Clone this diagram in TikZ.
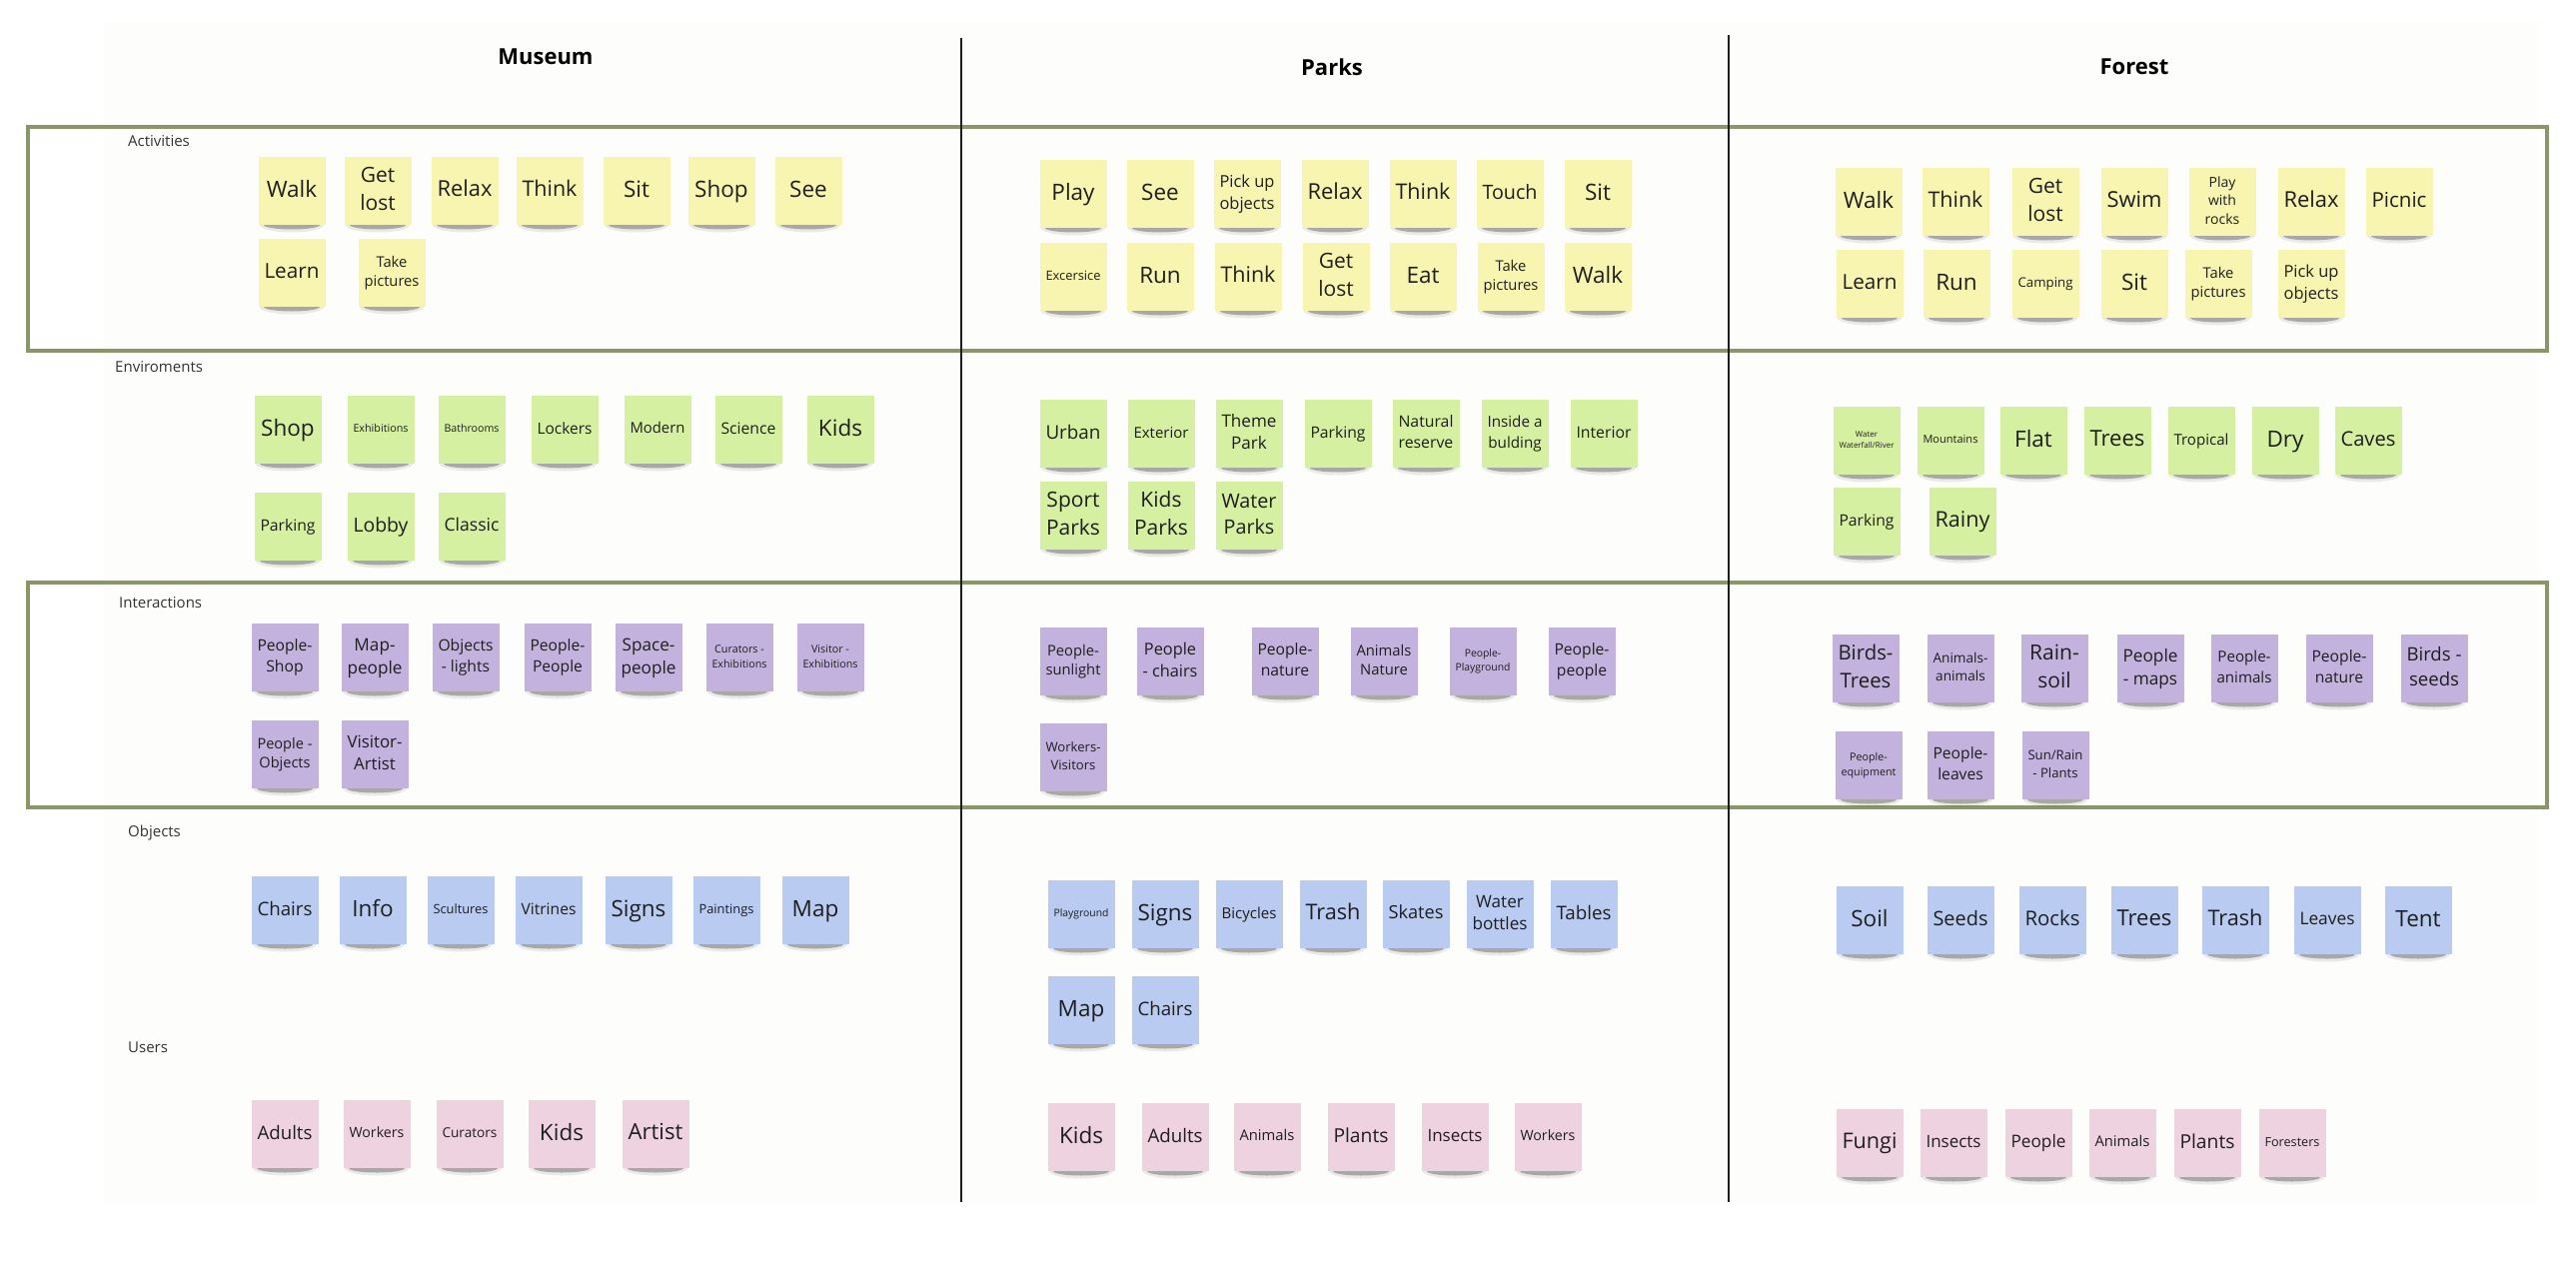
\documentclass[tikz,border=0pt]{standalone}
\usepackage{fontspec}
\setmainfont{Open Sans}
\usepackage{graphicx}
\definecolor{frameol}{RGB}{138,150,104}
\definecolor{noteyel}{RGB}{248,245,176}
\definecolor{notegrn}{RGB}{213,240,160}
\definecolor{notepur}{RGB}{196,178,222}
\definecolor{noteblu}{RGB}{185,203,240}
\definecolor{notepnk}{RGB}{239,210,224}
\definecolor{txtcol}{RGB}{30,30,30}
\definecolor{labcol}{RGB}{51,51,51}
\definecolor{panelcol}{RGB}{253,253,252}
\definecolor{vline}{RGB}{30,30,30}
\newsavebox\ntbox
\newcommand\nt[1]{%
  \sbox\ntbox{\fontsize{22.5}{30}\selectfont\begin{tabular}{@{}c@{}}#1\end{tabular}}%
  \ifdim\wd\ntbox>55pt \sbox\ntbox{\resizebox{55pt}{!}{\usebox\ntbox}}\fi
  \ifdim\dimexpr\ht\ntbox+\dp\ntbox\relax>56pt \sbox\ntbox{\resizebox*{!}{56pt}{\usebox\ntbox}}\fi
  \usebox\ntbox}
\tikzset{
  note/.style={inner sep=0pt, minimum width=67pt, minimum height=68pt, text=txtcol},
  hdr/.style={inner sep=0pt, font=\fontsize{22}{26}\selectfont\bfseries, text=black},
  rowlab/.style={inner sep=0pt, anchor=west, font=\fontsize{15}{18}\selectfont, text=labcol},
  frame/.style={draw=frameol, line width=3.5pt},
  colline/.style={draw=vline, line width=2.4pt}
}
\newcommand\noterow[4]{%
  \foreach \px/\lbl [count=\k] in {#4}{%
    \fill[black,opacity=.08] (\px,#2+34) ellipse [x radius=32, y radius=7.5];
    \fill[black,opacity=.28] (\px,#2+34) ellipse [x radius=28, y radius=4.5];
    \node[note, fill=#3] (#1-\k) at (\px,#2) {\nt{\lbl}};
  }}
\begin{document}
\begin{tikzpicture}[x=1pt,y=-1pt]
\useasboundingbox (0,0) rectangle (2578,1261);
\fill[white] (0,0) rectangle (2578,1261);
\fill[panelcol] (104,22) rectangle (2540,1203);
% frames
\draw[frame] (28,127) rectangle (2549,351);
\draw[frame] (28,583) rectangle (2549,808);
% column lines
\draw[colline] (962,38) -- (962,1203);
\draw[colline] (1730,35) -- (1730,1203);
% headers
\node[hdr] (hMuseum) at (546,57) {Museum};
\node[hdr] (hParks) at (1333,67) {Parks};
\node[hdr] (hForest) at (2136,67) {Forest};
% row labels
\node[rowlab] (lAct) at (128,141) {Activities};
\node[rowlab] (lEnv) at (115,367) {Enviroments};
\node[rowlab] (lInt) at (119,603) {Interactions};
\node[rowlab] (lObj) at (128,834) {Objects};
\node[rowlab] (lUse) at (128,1048) {Users};
% Museum
\noterow{mA}{191}{noteyel}{292/Walk,378/{Get\\lost},465/Relax,550/Think,637/Sit,722/Shop,809/See}
\noterow{mAb}{273}{noteyel}{292/Learn,392/{Take\\pictures}}
\noterow{mE}{430}{notegrn}{288/Shop,381/Exhibitions,472/Bathrooms,565/Lockers,658/Modern,749/Science,841/Kids}
\noterow{mEb}{527}{notegrn}{288/Parking,381/Lobby,472/Classic}
\noterow{mI}{658}{notepur}{285/{People-\\Shop},375/{Map-\\people},466/{Objects\\- lights},558/{People-\\People},649/{Space-\\people},740/{Curators -\\Exhibitions},831/{Visitor -\\Exhibitions}}
\noterow{mIb}{755}{notepur}{285/{People -\\Objects},375/{Visitor-\\Artist}}
\noterow{mO}{911}{noteblu}{285/Chairs,373/Info,461/Scultures,549/Vitrines,639/Signs,727/Paintings,816/Map}
\noterow{mU}{1135}{notepnk}{285/Adults,377/Workers,470/Curators,562/Kids,656/Artist}
% Parks
\noterow{pA}{194}{noteyel}{1074/Play,1161/See,1248/{Pick up\\objects},1336/Relax,1424/Think,1511/Touch,1599/Sit}
\noterow{pAb}{277}{noteyel}{1074/Excersice,1161/Run,1249/Think,1337/{Get\\lost},1424/Eat,1512/{Take\\pictures},1599/Walk}
\noterow{pE}{434}{notegrn}{1074/Urban,1162/Exterior,1250/{Theme\\Park},1339/Parking,1427/{Natural\\reserve},1516/{Inside a\\bulding},1605/Interior}
\noterow{pEb}{516}{notegrn}{1074/{Sport\\Parks},1162/{Kids\\Parks},1250/{Water\\Parks}}
\noterow{pI}{662}{notepur}{1074/{People-\\sunlight},1171/{People\\- chairs},1286/{People-\\nature},1385/{Animals\\Nature},1484/{People-\\Playground},1583/{People-\\people}}
\noterow{pIb}{758}{notepur}{1074/{Workers-\\Visitors}}
\noterow{pO}{915}{noteblu}{1082/Playground,1166/Signs,1250/Bicycles,1334/Trash,1417/Skates,1501/{Water\\bottles},1585/Tables}
\noterow{pOb}{1011}{noteblu}{1082/Map,1166/Chairs}
\noterow{pU}{1138}{notepnk}{1082/Kids,1176/Adults,1268/Animals,1362/Plants,1456/Insects,1549/Workers}
% Forest
\noterow{fA}{202}{noteyel}{1870/Walk,1957/Think,2047/{Get\\lost},2136/Swim,2224/{Play\\with\\rocks},2313/Relax,2401/Picnic}
\noterow{fAb}{284}{noteyel}{1871/Learn,1958/Run,2047/Camping,2136/Sit,2220/{Take\\pictures},2313/{Pick up\\objects}}
\noterow{fE}{441}{notegrn}{1868/{Water\\Waterfall/River},1952/Mountains,2035/Flat,2119/Trees,2203/Tropical,2287/Dry,2370/Caves}
\noterow{fEb}{522}{notegrn}{1868/Parking,1964/Rainy}
\noterow{fI}{669}{notepur}{1867/{Birds-\\Trees},1962/{Animals-\\animals},2056/{Rain-\\soil},2152/{People\\- maps},2246/{People-\\animals},2341/{People-\\nature},2436/{Birds -\\seeds}}
\noterow{fIb}{766}{notepur}{1870/{People-\\equipment},1962/{People-\\leaves},2057/{Sun/Rain\\- Plants}}
\noterow{fO}{921}{noteblu}{1871/Soil,1962/Seeds,2054/Rocks,2146/Trees,2237/Trash,2329/Leaves,2420/Tent}
\noterow{fU}{1144}{notepnk}{1871/Fungi,1955/Insects,2040/People,2124/Animals,2209/Plants,2294/Foresters}
\end{tikzpicture}
\end{document}
